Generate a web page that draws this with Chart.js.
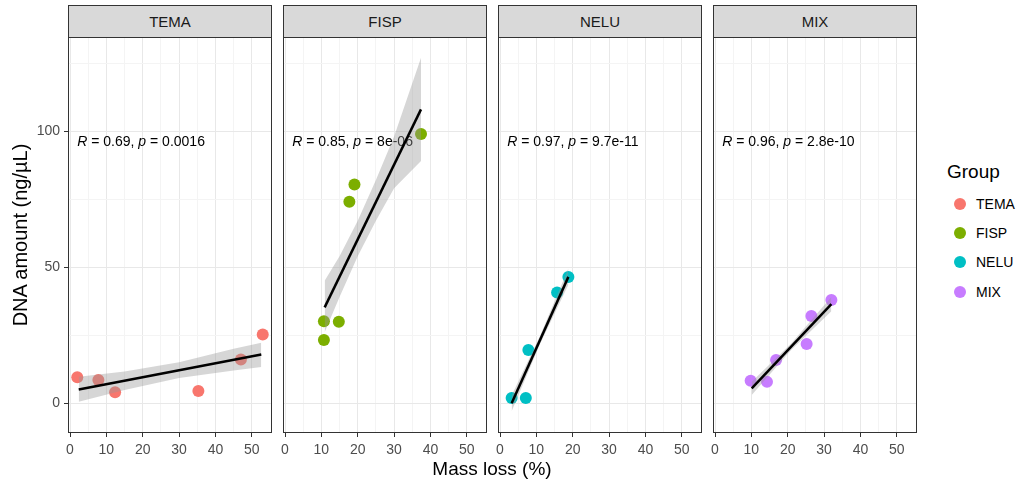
<!DOCTYPE html>
<html>
<head>
<meta charset="utf-8">
<script src="https://cdn.jsdelivr.net/npm/chart.js@4.4.1/dist/chart.umd.min.js"></script>
<style>
  body { margin: 0; background: #fff; font-family: 'Liberation Sans', Arial, sans-serif; }
  #wrap { position: relative; width: 1031px; height: 483px; overflow: hidden; }
  canvas { position: absolute; }
  .strip { position: absolute; box-sizing: border-box; border: 1px solid #333; background: #D9D9D9;
           color: #1A1A1A; font-size: 15px; display: flex; align-items: center; justify-content: center; }
  .title { position: absolute; color: #000; font-size: 19px; line-height: 22px; text-align: center; white-space: nowrap; }
  .leg { position: absolute; font-size: 14px; color: #000; line-height: 18px; }
  .dot { position: absolute; width: 12px; height: 12px; border-radius: 50%; }
</style>
</head>
<body>
<div id="wrap"></div>
<script>
// groups / facets
const groups = ['TEMA', 'FISP', 'NELU', 'MIX'];
const groupColors = ['#F8766D', '#7CAE00', '#00BFC4', '#C77CFF'];

// measured points (mass loss %, DNA ng/uL)
const temaX = [2.0, 7.8, 12.4, 35.3, 47.0, 53.0];
const temaY = [9.5, 8.5, 4.0, 4.4, 16.0, 25.2];
const fispX = [10.7, 14.8, 10.7, 17.7, 19.1, 37.4];
const fispY = [30.1, 29.9, 23.2, 74.0, 80.4, 98.9];
const neluX = [3.2, 7.1, 7.8, 15.7, 18.8];
const neluY = [1.9, 1.9, 19.5, 40.7, 46.4];
const mixX = [9.8, 14.3, 16.8, 25.2, 26.5, 32.0];
const mixY = [8.2, 7.8, 15.8, 21.7, 32.0, 37.9];

// fitted lines (end points)
const temaFitX = [2.4, 52.6], temaFitY = [5.0, 17.9];
const fispFitX = [10.9, 37.4], fispFitY = [35.2, 108.0];
const neluFitX = [3.2, 18.8], neluFitY = [-0.1, 46.4];
const mixFitX = [10.1, 32.0], mixFitY = [5.4, 36.4];

// confidence bands
const temaBandX = [2.4, 15, 30, 45, 52.6];
const temaBandLo = [0.5, 4.8, 9.2, 12.0, 13.3];
const temaBandHi = [9.7, 11.6, 15.0, 20.0, 22.2];
const fispBandX = [10.9, 15, 20, 25, 30, 37.4];
const fispBandLo = [26, 39, 54, 67, 79, 89];
const fispBandHi = [45, 54, 67, 82, 98, 127];
const neluBandX = [3.2, 11, 18.8];
const neluBandLo = [-3.0, 21.7, 43.5];
const neluBandHi = [2.8, 24.7, 49.5];
const mixBandX = [10.1, 21, 32];
const mixBandLo = [3.0, 19.6, 33.8];
const mixBandHi = [7.8, 22.0, 39.0];

// correlation labels
const rVals = ['0.69', '0.85', '0.97', '0.96'];
const pVals = ['0.0016', '8e-06', '9.7e-11', '2.8e-10'];

// axis breaks
const xBreaks = [0, 10, 20, 30, 40, 50];
const xMinor = [5, 15, 25, 35, 45];
const yBreaks = [0, 50, 100];
const yMinor = [25, 75, 125];

const pts = [[temaX, temaY], [fispX, fispY], [neluX, neluY], [mixX, mixY]];
const fits = [[temaFitX, temaFitY], [fispFitX, fispFitY], [neluFitX, neluFitY], [mixFitX, mixFitY]];
const bands = [[temaBandX, temaBandLo, temaBandHi], [fispBandX, fispBandLo, fispBandHi],
               [neluBandX, neluBandLo, neluBandHi], [mixBandX, mixBandLo, mixBandHi]];

const FONT = "'Liberation Sans', Arial, sans-serif";
const wrap = document.getElementById('wrap');
const panelLeft = [68, 283, 498, 713];
const panelW = 204, panelTop = 37, panelH = 396;
const axisW = 60, axisH = 33;

const zip = (xs, ys) => xs.map((x, k) => ({ x: x, y: ys[k] }));

const panelPlugin = {
  id: 'panel',
  beforeDatasetsDraw(chart) {
    const i = chart.options.plugins.panel.idx;
    const ctx = chart.ctx;
    let x = chart.scales.x.getPixelForValue(2);
    const y = chart.scales.y.getPixelForValue(96);
    ctx.save();
    ctx.fillStyle = '#000';
    ctx.textBaseline = 'middle';
    const parts = [['R', true], [' = ' + rVals[i] + ', ', false], ['p', true], [' = ' + pVals[i], false]];
    parts.forEach(p => {
      ctx.font = (p[1] ? 'italic ' : '') + '14px ' + FONT;
      ctx.fillText(p[0], x, y);
      x += ctx.measureText(p[0]).width;
    });
    ctx.restore();
  },
  afterDraw(chart) {
    const a = chart.chartArea, ctx = chart.ctx;
    ctx.save();
    ctx.strokeStyle = '#333';
    ctx.lineWidth = 1;
    ctx.strokeRect(a.left + 0.5, a.top + 0.5, a.width - 1, a.height - 1);
    ctx.restore();
  }
};

function setTicks(major, minor) {
  return scale => {
    scale.ticks = major.concat(minor).sort((a, b) => a - b).map(v => ({ value: v }));
  };
}

function noPad(s) {
  s.paddingTop = 0; s.paddingBottom = 0; s.paddingLeft = 0; s.paddingRight = 0;
}

groups.forEach((g, i) => {
  // strip
  const s = document.createElement('div');
  s.className = 'strip';
  s.style.left = panelLeft[i] + 'px';
  s.style.top = '5px';
  s.style.width = panelW + 'px';
  s.style.height = '33px';
  s.textContent = g;
  wrap.appendChild(s);

  const c = document.createElement('canvas');
  c.width = panelW + axisW;
  c.height = panelH + axisH;
  c.style.left = (panelLeft[i] - axisW) + 'px';
  c.style.top = panelTop + 'px';
  wrap.appendChild(c);

  const showY = i === 0;
  const [bx, blo, bhi] = bands[i];

  new Chart(c, {
    data: {
      datasets: [
        { type: 'scatter', data: zip(pts[i][0], pts[i][1]), backgroundColor: groupColors[i],
          pointRadius: 6, pointHoverRadius: 6, borderWidth: 0, order: 3 },
        { type: 'line', data: zip(bx, bhi), fill: '+1', backgroundColor: 'rgba(153,153,153,0.4)',
          borderColor: 'transparent', borderWidth: 0, pointRadius: 0, order: 2 },
        { type: 'line', data: zip(bx, blo), fill: false,
          borderColor: 'transparent', borderWidth: 0, pointRadius: 0, order: 2 },
        { type: 'line', data: zip(fits[i][0], fits[i][1]), fill: false, borderColor: '#000',
          borderWidth: 2.5, pointRadius: 0, order: 1 }
      ]
    },
    options: {
      responsive: false,
      animation: false,
      events: [],
      layout: { padding: 0, autoPadding: false },
      plugins: { legend: { display: false }, tooltip: { enabled: false }, panel: { idx: i } },
      scales: {
        x: {
          type: 'linear', min: -0.55, max: 55.55,
          afterBuildTicks: setTicks(xBreaks, xMinor),
          afterFit: s => { s.height = axisH; noPad(s); },
          border: { display: false },
          grid: {
            color: ctx => xBreaks.includes(ctx.tick.value) ? '#E8E8E8' : '#F4F4F4',
            lineWidth: 1, tickLength: 4, tickWidth: 1,
            tickColor: ctx => xBreaks.includes(ctx.tick.value) ? '#333' : 'transparent'
          },
          ticks: {
            color: '#4D4D4D', font: { family: FONT, size: 14 }, padding: 5,
            maxRotation: 0, autoSkip: false,
            callback: v => xBreaks.includes(v) ? String(v) : ''
          }
        },
        y: {
          type: 'linear', min: -11, max: 134.6,
          afterBuildTicks: setTicks(yBreaks, yMinor),
          afterFit: s => { s.width = axisW; noPad(s); },
          border: { display: false },
          grid: {
            color: ctx => yBreaks.includes(ctx.tick.value) ? '#E8E8E8' : '#F4F4F4',
            lineWidth: 1, tickLength: 4, tickWidth: 1, drawTicks: showY,
            tickColor: ctx => yBreaks.includes(ctx.tick.value) ? '#333' : 'transparent'
          },
          ticks: {
            display: showY,
            color: '#4D4D4D', font: { family: FONT, size: 14 }, padding: 4,
            autoSkip: false,
            callback: v => yBreaks.includes(v) ? String(v) : ''
          }
        }
      }
    },
    plugins: [panelPlugin]
  });
});

// axis titles
const xt = document.createElement('div');
xt.className = 'title';
xt.style.left = '392px'; xt.style.top = '458px'; xt.style.width = '200px';
xt.textContent = 'Mass loss (%)';
wrap.appendChild(xt);

const yt = document.createElement('div');
yt.className = 'title';
yt.style.fontSize = '20px';
yt.style.left = (20 - 150) + 'px'; yt.style.top = (235 - 11) + 'px'; yt.style.width = '300px';
yt.style.transform = 'rotate(-90deg)';
yt.textContent = 'DNA amount (ng/\u00B5L)';
wrap.appendChild(yt);

// legend
const lt = document.createElement('div');
lt.className = 'title';
lt.style.left = '947px'; lt.style.top = '161px'; lt.style.textAlign = 'left';
lt.textContent = 'Group';
wrap.appendChild(lt);

const legY = [204, 233, 262, 292];
groups.forEach((g, i) => {
  const d = document.createElement('div');
  d.className = 'dot';
  d.style.left = '954px'; d.style.top = (legY[i] - 6) + 'px';
  d.style.background = groupColors[i];
  wrap.appendChild(d);
  const t = document.createElement('div');
  t.className = 'leg';
  t.style.left = '976px'; t.style.top = (legY[i] - 9) + 'px';
  t.textContent = g;
  wrap.appendChild(t);
});
</script>
</body>
</html>
